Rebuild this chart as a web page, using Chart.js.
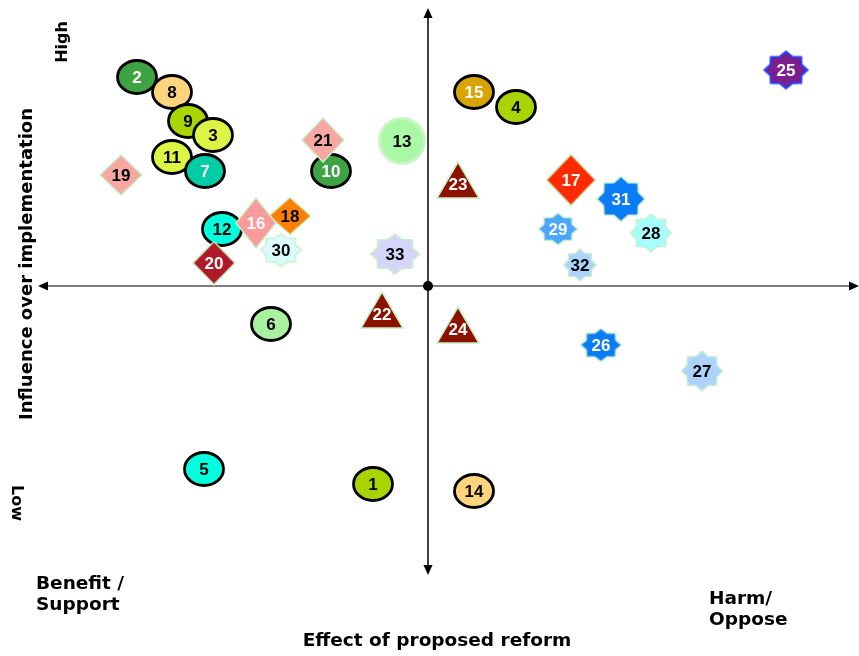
<!DOCTYPE html>
<html>
<head>
<meta charset="utf-8">
<script src="https://cdn.jsdelivr.net/npm/chart.js@4.4.0/dist/chart.umd.min.js"></script>
<style>
    html, body { margin: 0; padding: 0; background: #fff; }
</style>
</head>
<body>
<canvas id="stakeChart" width="859" height="656"></canvas>
<script>
// Stakeholders, in drawing order (later ones sit on top)
const stakeholderIds = [2, 8, 9, 3, 11, 7, 19, 10, 21, 13, 12, 18, 16, 30, 20, 33, 6, 22, 23, 24,
                        15, 4, 17, 31, 29, 28, 32, 26, 27, 25, 5, 1, 14];
// Effect of proposed reform: negative = benefit / support, positive = harm / oppose
const effectValues = [-29.1, -25.6, -24.0, -21.5, -25.6, -22.3, -30.7, -9.7, -10.5, -2.6, -20.6, -13.8, -17.2, -14.7, -21.4, -3.3, -15.7, -4.6, 3.0, 3.0,
                      4.6, 8.8, 14.3, 19.3, 13.0, 22.3, 15.2, 17.3, 27.4, 35.8, -22.4, -5.5, 4.6];
// Influence over implementation: positive = high, negative = low
const influenceValues = [20.9, 19.4, 16.5, 15.1, 12.9, 11.5, 11.1, 11.5, 14.6, 14.5, 5.7, 7.0, 6.3, 3.6, 2.3, 3.2, -3.8, -2.4, 10.6, -3.9,
                         19.4, 17.9, 10.6, 8.7, 5.7, 5.3, 2.1, -5.9, -8.5, 21.6, -18.3, -19.8, -20.5];

// Axis captions
const yHighLabel = 'High';
const yLowLabel = 'Low';
const yTitle = 'Influence over implementation';
const xLeftLabel = ['Benefit /', 'Support'];
const xRightLabel = ['Harm/', 'Oppose'];
const xTitle = 'Effect of proposed reform';

// Marker look for each stakeholder: shape, fill, text colour, width, height
const markerStyles = {
    1:  ['ellipse', '#aad400', '#000', 42, 36],
    2:  ['ellipse', '#3ea443', '#fff', 42, 36],
    3:  ['ellipse', '#dcf545', '#000', 42, 36],
    4:  ['ellipse', '#aad400', '#000', 42, 36],
    5:  ['ellipse', '#00ffdc', '#000', 42, 36],
    6:  ['ellipse', '#a8f2a0', '#000', 42, 36],
    7:  ['ellipse', '#00cca5', '#fff', 42, 36],
    8:  ['ellipse', '#ffd47f', '#000', 42, 36],
    9:  ['ellipse', '#aad400', '#000', 42, 36],
    10: ['ellipse', '#3ea443', '#fff', 42, 36],
    11: ['ellipse', '#dcf545', '#000', 42, 36],
    12: ['ellipse', '#00ffdc', '#000', 42, 36],
    13: ['circle',  '#aaf7a6', '#000', 48, 48],
    14: ['ellipse', '#ffd47f', '#000', 42, 36],
    15: ['ellipse', '#d9a300', '#fff', 42, 36],
    16: ['diamond', '#fa9a9a', '#fff', 40, 50],
    17: ['diamond', '#ff2a00', '#fff', 49, 51],
    18: ['diamond', '#ff8000', '#000', 42, 37],
    19: ['diamond', '#f9a7a2', '#000', 42, 40],
    20: ['diamond', '#b01a28', '#fff', 42, 43],
    21: ['diamond', '#f9a7a2', '#000', 42, 44],
    22: ['triangle', '#8c1200', '#fff', 42, 36],
    23: ['triangle', '#8c1200', '#fff', 42, 36],
    24: ['triangle', '#8c1200', '#fff', 42, 36],
    25: ['star', '#7a1f8c', '#fff', 45, 39],
    26: ['star', '#0a7cf5', '#fff', 43, 35],
    27: ['star', '#acd3ff', '#000', 43, 42],
    28: ['star', '#a6ffff', '#000', 43, 40],
    29: ['star', '#4aa6ff', '#fff', 41, 34],
    30: ['star', '#dcfbff', '#000', 43, 35],
    31: ['star', '#0a7cf5', '#fff', 50, 47],
    32: ['star', '#acd3ff', '#000', 34, 34],
    33: ['star', '#d5d5fa', '#000', 51, 42]
};

// Dibuja un marcador en un canvas aparte para usarlo como pointStyle
function crearMarcador(shape, fill, w, h, id) {
    const c = document.createElement('canvas');
    c.width = w + 2;
    c.height = h + 2;
    const g = c.getContext('2d');
    const cx = c.width / 2, cy = c.height / 2;
    g.beginPath();
    if (shape === 'ellipse') {
        g.ellipse(cx, cy, w / 2 - 1.5, h / 2 - 1.5, 0, 0, Math.PI * 2);
    } else if (shape === 'circle') {
        g.arc(cx, cy, w / 2 - 1.5, 0, Math.PI * 2);
    } else if (shape === 'diamond') {
        g.moveTo(cx, cy - h / 2);
        g.lineTo(cx + w / 2, cy);
        g.lineTo(cx, cy + h / 2);
        g.lineTo(cx - w / 2, cy);
        g.closePath();
    } else if (shape === 'triangle') {
        g.moveTo(cx, cy - h / 2);
        g.lineTo(cx + w / 2, cy + h / 2);
        g.lineTo(cx - w / 2, cy + h / 2);
        g.closePath();
    } else {
        // estrella de 8 puntas
        for (let i = 0; i < 16; i++) {
            const a = -Math.PI / 2 + i * Math.PI / 8;
            const k = i % 2 === 0 ? 1 : 0.78;
            const px = cx + Math.cos(a) * (w / 2 - 1) * k;
            const py = cy + Math.sin(a) * (h / 2 - 1) * k;
            if (i === 0) g.moveTo(px, py); else g.lineTo(px, py);
        }
        g.closePath();
    }
    g.fillStyle = fill;
    g.fill();
    if (shape === 'ellipse') {
        g.strokeStyle = '#000';
        g.lineWidth = 2.8;
    } else if (shape === 'circle') {
        g.strokeStyle = '#c8f5c4';
        g.lineWidth = 3;
    } else if (id === 25) {
        g.strokeStyle = '#2040ff';
        g.lineWidth = 2;
    } else {
        g.strokeStyle = '#c6f0c6';
        g.lineWidth = 1.5;
    }
    g.stroke();
    return c;
}

const puntos = stakeholderIds.map((id, i) => ({ x: effectValues[i], y: influenceValues[i] }));
const marcadores = stakeholderIds.map(id => {
    const s = markerStyles[id];
    return crearMarcador(s[0], s[1], s[3], s[4], id);
});

function flecha(ctx, x, y, dx, dy) {
    // punta de flecha rellena apuntando en (dx, dy)
    const len = 10, half = 4.5;
    ctx.beginPath();
    ctx.moveTo(x, y);
    ctx.lineTo(x - dx * len - dy * half, y - dy * len + dx * half);
    ctx.lineTo(x - dx * len + dy * half, y - dy * len - dx * half);
    ctx.closePath();
    ctx.fill();
}

// Ejes cruzados con flechas, dibujados antes de los marcadores
const ejesPlugin = {
    id: 'ejes',
    beforeDatasetsDraw(chart) {
        const ctx = chart.ctx;
        const a = chart.chartArea;
        const x0 = chart.scales.x.getPixelForValue(0);
        const y0 = chart.scales.y.getPixelForValue(0);
        ctx.save();
        ctx.strokeStyle = '#7f7f7f';
        ctx.lineWidth = 2;
        ctx.beginPath();
        ctx.moveTo(a.left + 6, y0);
        ctx.lineTo(a.right - 6, y0);
        ctx.stroke();
        ctx.strokeStyle = '#000';
        ctx.lineWidth = 1.5;
        ctx.beginPath();
        ctx.moveTo(x0, a.top + 6);
        ctx.lineTo(x0, a.bottom - 6);
        ctx.stroke();
        ctx.fillStyle = '#000';
        flecha(ctx, a.left, y0, -1, 0);
        flecha(ctx, a.right, y0, 1, 0);
        flecha(ctx, x0, a.top, 0, -1);
        flecha(ctx, x0, a.bottom, 0, 1);
        ctx.beginPath();
        ctx.arc(x0, y0, 5, 0, Math.PI * 2);
        ctx.fill();
        ctx.restore();
    }
};

// Numeros dentro de cada marcador y textos de los ejes
const textosPlugin = {
    id: 'textos',
    afterDatasetsDraw(chart) {
        const ctx = chart.ctx;
        const meta = chart.getDatasetMeta(0);
        ctx.save();
        ctx.font = 'bold 17px "Liberation Sans", Arial, sans-serif';
        ctx.textAlign = 'center';
        ctx.textBaseline = 'middle';
        meta.data.forEach((el, i) => {
            const id = stakeholderIds[i];
            const s = markerStyles[id];
            const off = s[0] === 'triangle' ? 5 : 1;
            ctx.fillStyle = s[2];
            ctx.fillText(String(id), el.x, el.y + off);
        });

        ctx.fillStyle = '#000';
        // High / titulo vertical / Low
        ctx.save();
        ctx.font = 'bold 16px "DejaVu Sans", Verdana, sans-serif';
        ctx.translate(63, 42);
        ctx.rotate(-Math.PI / 2);
        ctx.fillText(yHighLabel, 0, 0);
        ctx.restore();

        ctx.save();
        ctx.font = 'bold 18px "DejaVu Sans", Verdana, sans-serif';
        ctx.translate(27, 264);
        ctx.rotate(-Math.PI / 2);
        ctx.fillText(yTitle, 0, 0);
        ctx.restore();

        ctx.save();
        ctx.font = 'bold 16px "DejaVu Sans", Verdana, sans-serif';
        ctx.translate(16, 503);
        ctx.rotate(Math.PI / 2);
        ctx.fillText(yLowLabel, 0, 0);
        ctx.restore();

        ctx.font = 'bold 18.5px "DejaVu Sans", Verdana, sans-serif';
        ctx.textAlign = 'left';
        ctx.textBaseline = 'alphabetic';
        ctx.fillText(xLeftLabel[0], 36, 589);
        ctx.fillText(xLeftLabel[1], 36, 610);
        ctx.fillText(xRightLabel[0], 709, 604);
        ctx.fillText(xRightLabel[1], 709, 625);
        ctx.textAlign = 'center';
        ctx.fillText(xTitle, 437, 646);
        ctx.restore();
    }
};

const ctx = document.getElementById('stakeChart').getContext('2d');
const stakeChart = new Chart(ctx, {
    type: 'scatter',
    data: {
        datasets: [{
            label: 'Stakeholders',
            data: puntos,
            pointStyle: marcadores,
            pointRadius: 20
        }]
    },
    options: {
        responsive: false,
        animation: false,
        devicePixelRatio: 1,
        events: [],
        layout: { autoPadding: false, padding: { left: 38, top: 8, right: 0, bottom: 81 } },
        scales: {
            x: { type: 'linear', min: -39, max: 43.1, display: false },
            y: { type: 'linear', min: -28.9, max: 27.8, display: false }
        },
        plugins: {
            legend: { display: false },
            tooltip: { enabled: false }
        }
    },
    plugins: [ejesPlugin, textosPlugin]
});
</script>
</body>
</html>
